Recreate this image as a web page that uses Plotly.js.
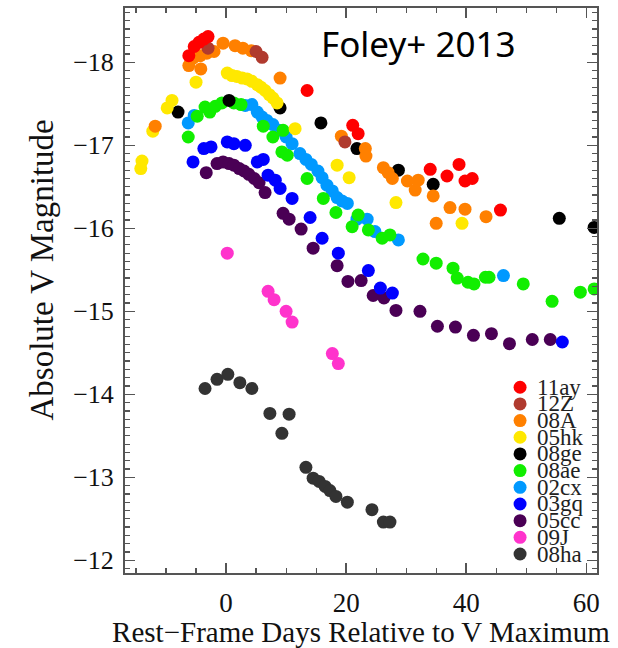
<!DOCTYPE html>
<html><head><meta charset="utf-8">
<script src="https://cdn.plot.ly/plotly-3.0.1.min.js"></script>
<style>html,body{margin:0;padding:0;background:#fff}#chart{width:618px;height:648px}</style>
</head><body><div id="chart"></div>
<script>
const names = ["11ay","12Z","08A","05hk","08ge","08ae","02cx","03gq","05cc","09J","08ha"];
const colors = ["#ff0000","#b03a2e","#ff8000","#ffe800","#000000","#11ee00","#0099ff","#0000ff","#4a0055","#ff33cc","#333333"];

const days_11ay = [-6.2,-5.3,-4.5,-3.7,-3.0,13.5,21.1,22.0,34.0,36.8,38.8,39.8,41.0,45.7];
const mag_11ay  = [-18.08,-18.19,-18.24,-18.28,-18.31,-17.66,-17.24,-17.14,-16.71,-16.63,-16.77,-16.57,-16.60,-16.22];

const days_12Z = [-3.0,5.0,6.0,19.8];
const mag_12Z  = [-18.17,-18.13,-18.06,-17.04];

const days_08A = [-11.8,-6.2,-5.5,-4.3,-4.2,-3.2,-2.0,-0.5,1.5,2.8,4.2,9.0,19.2,23.2,23.3,26.2,27.0,27.7,30.2,32.0,31.5,34.5,35.0,37.3,39.8,43.3];
const mag_08A  = [-17.23,-17.96,-18.05,-18.08,-17.92,-18.11,-18.13,-18.23,-18.20,-18.17,-18.14,-17.81,-17.11,-16.96,-16.87,-16.73,-16.67,-16.60,-16.57,-16.58,-16.46,-16.39,-16.06,-16.25,-16.23,-16.14];

const days_05hk = [-14.0,-14.2,-12.2,-9.8,-9.0,-5.0,0.2,1.0,1.8,2.7,3.5,4.3,5.2,5.8,6.5,7.2,7.8,8.5,11.5,18.5,20.5,28.3,39.3];
const mag_05hk  = [-16.81,-16.72,-17.17,-17.45,-17.54,-17.76,-17.87,-17.84,-17.83,-17.81,-17.80,-17.77,-17.73,-17.70,-17.66,-17.61,-17.57,-17.51,-17.20,-16.76,-16.61,-16.31,-16.06];

const days_08ge = [-8.0,0.5,9.0,15.8,21.8,28.7,34.5,55.5,61.3];
const mag_08ge  = [-17.40,-17.54,-17.45,-17.27,-16.96,-16.70,-16.53,-16.12,-16.01];

const days_08ae = [-6.3,-4.8,-3.5,-2.7,-1.8,-0.7,1.3,2.5,6.2,7.8,9.5,9.3,10.2,13.5,16.2,18.3,21.0,22.0,23.7,26.0,27.3,32.8,35.0,37.8,38.5,40.3,41.3,43.2,43.8,49.5,54.3,59.0,61.3];
const mag_08ae  = [-17.10,-17.35,-17.46,-17.40,-17.47,-17.51,-17.51,-17.49,-17.23,-17.10,-17.18,-16.92,-16.88,-16.60,-16.36,-16.19,-16.02,-16.16,-15.98,-15.88,-15.92,-15.63,-15.58,-15.52,-15.40,-15.35,-15.33,-15.41,-15.41,-15.33,-15.12,-15.23,-15.27];

const days_02cx = [-6.3,-5.3,3.2,4.3,5.2,6.0,6.8,7.8,8.8,10.0,11.0,12.3,13.3,14.2,15.3,16.0,16.8,17.7,18.5,19.3,20.2,21.8,23.5,24.8,28.7,46.2];
const mag_02cx  = [-17.27,-17.36,-17.48,-17.49,-17.40,-17.34,-17.30,-17.25,-17.18,-17.10,-17.02,-16.90,-16.83,-16.77,-16.69,-16.61,-16.52,-16.45,-16.37,-16.33,-16.30,-16.11,-16.11,-15.96,-15.86,-15.43];

const days_03gq = [-5.5,-3.7,-2.5,0.2,1.3,3.2,5.2,6.2,7.0,8.2,9.0,11.0,14.0,16.0,18.7,23.7,25.7,27.7,56.0];
const mag_03gq  = [-16.80,-16.96,-16.98,-17.04,-17.02,-17.00,-16.80,-16.83,-16.64,-16.58,-16.48,-16.36,-16.13,-15.88,-15.70,-15.49,-15.28,-15.22,-14.63];

const days_05cc = [-3.3,-1.5,-0.5,0.5,1.3,2.2,3.0,3.8,4.7,5.5,6.5,9.5,10.5,12.5,14.5,18.5,20.3,22.5,24.5,26.3,28.3,32.3,35.2,38.2,41.2,44.2,47.2,51.0,54.0];
const mag_05cc  = [-16.67,-16.78,-16.80,-16.78,-16.76,-16.72,-16.69,-16.65,-16.60,-16.55,-16.43,-16.18,-16.11,-15.99,-15.76,-15.55,-15.36,-15.37,-15.19,-15.16,-15.01,-15.00,-14.82,-14.81,-14.71,-14.73,-14.61,-14.66,-14.66];

const days_09J = [0.2,7.0,8.0,10.0,11.0,17.7,18.7];
const mag_09J  = [-15.70,-15.24,-15.14,-15.00,-14.87,-14.49,-14.37];

const days_08ha = [-3.5,-1.5,0.3,2.3,4.3,7.3,9.3,10.5,13.3,14.5,15.5,16.5,17.3,18.3,20.2,24.3,26.2,27.3];
const mag_08ha  = [-14.07,-14.18,-14.24,-14.14,-14.07,-13.77,-13.53,-13.76,-13.12,-12.99,-12.95,-12.89,-12.84,-12.77,-12.70,-12.61,-12.46,-12.46];

const xTickVals = [0,20,40,60];
const yTickVals = [-18,-17,-16,-15,-14,-13,-12];
const yTickText = ["\u221218","\u221217","\u221216","\u221215","\u221214","\u221213","\u221212"];

const seriesX = [days_11ay,days_12Z,days_08A,days_05hk,days_08ge,days_08ae,days_02cx,days_03gq,days_05cc,days_09J,days_08ha];
const seriesY = [mag_11ay,mag_12Z,mag_08A,mag_05hk,mag_08ge,mag_08ae,mag_02cx,mag_03gq,mag_05cc,mag_09J,mag_08ha];

const traces = [];
for (let i = names.length - 1; i >= 0; i--) {
  traces.push({
    type: 'scatter', mode: 'markers', name: names[i],
    x: seriesX[i], y: seriesY[i],
    marker: {size: 13, color: colors[i], line: {width: 0}},
    showlegend: false, hoverinfo: 'skip'
  });
}

// custom compact legend (bottom right)
const shapes = [];
const annotations = [];
const legTop = 0.3288, legStep = 0.02952;
names.forEach((n, i) => {
  const yy = legTop - i * legStep;
  shapes.push({type: 'circle', xref: 'paper', yref: 'paper',
    xsizemode: 'pixel', ysizemode: 'pixel', xanchor: 0.837, yanchor: yy,
    x0: -6.5, x1: 6.5, y0: -6.5, y1: 6.5,
    fillcolor: colors[i], line: {width: 0}});
  annotations.push({xref: 'paper', yref: 'paper', x: 0.868, y: yy,
    xanchor: 'left', yanchor: 'middle', showarrow: false, text: n,
    font: {family: 'Liberation Serif', size: 23, color: '#222'}});
});
annotations.push({xref: 'paper', yref: 'paper', x: 0.411, y: 0.938,
  xanchor: 'left', yanchor: 'middle', showarrow: false, text: 'Foley+ 2013',
  font: {family: 'Noto Sans', size: 35, color: '#000'}});
// y-axis title placed as rotated text to match the reference position
annotations.push({xref: 'paper', yref: 'paper', x: -0.176, y: 0.537,
  xanchor: 'center', yanchor: 'middle', showarrow: false, textangle: -90,
  text: 'Absolute V Magnitude',
  font: {family: 'Liberation Serif', size: 33, color: '#111'}});

const axisCommon = {
  showgrid: false, zeroline: false, showline: true, linecolor: '#555', linewidth: 2,
  mirror: 'ticks', ticks: 'inside', ticklen: 10, tickwidth: 1.5, tickcolor: '#555'
};

const layout = {
  width: 618, height: 648,
  margin: {l: 125, r: 21, t: 8, b: 75},
  paper_bgcolor: '#ffffff', plot_bgcolor: '#ffffff',
  showlegend: false,
  xaxis: Object.assign({}, axisCommon, {
    range: [-16.83, 61.78], tickvals: xTickVals, ticktext: xTickVals.map(String),
    ticklabelstandoff: 5,
    tickfont: {family: 'Liberation Serif', size: 27, color: '#111'},
    minor: {dtick: 5, tick0: 0, ticks: 'inside', ticklen: 5, tickwidth: 1.2, tickcolor: '#555'},
    title: {text: 'Rest\u2212Frame Days Relative to V Maximum', standoff: 4,
      font: {family: 'Liberation Serif', size: 29, color: '#111'}}
  }),
  yaxis: Object.assign({}, axisCommon, {
    range: [-11.847, -18.654], tickvals: yTickVals, ticktext: yTickText,
    ticklabelstandoff: 4,
    tickfont: {family: 'Liberation Serif', size: 26, color: '#111'},
    minor: {dtick: 0.1, tick0: 0, ticks: 'inside', ticklen: 5, tickwidth: 1.2, tickcolor: '#555'}
  }),
  shapes: shapes,
  annotations: annotations
};

Plotly.newPlot('chart', traces, layout, {displayModeBar: false, staticPlot: true});
</script>
</body></html>
